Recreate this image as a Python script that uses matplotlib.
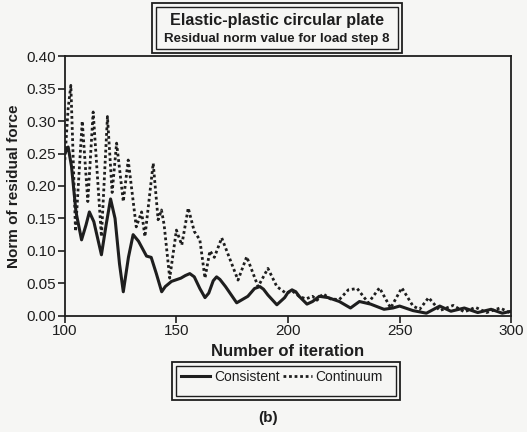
import matplotlib
matplotlib.use("Agg")
import matplotlib.pyplot as plt
from matplotlib.patches import Rectangle

# Consistent (solid line)
cons_x = [100, 101.5, 103, 105, 107.5, 109.5, 111, 113, 116.4, 118.5, 120.5, 122.5,
          124.5, 126.2, 128.5, 130.6, 133, 136.6, 138.7, 141, 143.4, 145, 147.8, 152,
          154, 156, 158, 160.5, 162.8, 164.5, 166.5, 168, 169.5, 172, 177, 182, 185, 187.4,
          189, 191, 195, 198.5, 200, 201.8, 203.5, 205, 208.5, 211, 214, 218, 223, 228, 232,
          237, 243, 247, 250, 256, 262, 268, 273, 279, 285, 291, 296, 300]
cons_y = [0.25, 0.26, 0.23, 0.16, 0.117, 0.14, 0.16, 0.145, 0.094, 0.14, 0.18, 0.15,
          0.08, 0.037, 0.09, 0.125, 0.115, 0.092, 0.09, 0.065, 0.037, 0.045, 0.053, 0.058,
          0.062, 0.065, 0.06, 0.042, 0.028, 0.035, 0.054, 0.06, 0.056, 0.045, 0.02, 0.03, 0.042, 0.045,
          0.041, 0.032, 0.017, 0.028, 0.036, 0.04, 0.037, 0.03, 0.018, 0.022, 0.03, 0.028, 0.022, 0.012, 0.022,
          0.018, 0.01, 0.012, 0.015, 0.008, 0.004, 0.015, 0.007, 0.012, 0.005, 0.01, 0.004, 0.007]

# Continuum (dotted line)
cont_x = [100, 101.5, 102.7, 104.8, 107.8, 110.3, 112.7, 116.4, 119.1, 121.2, 123.2,
          126.2, 128.4, 130.5, 132, 134.4, 135.9, 139.6, 141.8, 143.3, 144.5, 147, 150,
          152.4, 155.3, 158, 160.5, 162.8, 165, 167, 170.3, 177.6, 181.5, 186.6, 191, 195,
          199, 202, 205, 208, 211, 213, 215.7, 219, 223, 227, 231, 236, 241, 246, 251,
          256, 259, 263, 268, 274, 279, 284, 289, 295, 300]
cont_y = [0.24, 0.32, 0.355, 0.13, 0.30, 0.176, 0.314, 0.122, 0.307, 0.19, 0.266,
          0.176, 0.24, 0.18, 0.137, 0.16, 0.122, 0.235, 0.148, 0.163, 0.14, 0.058, 0.132,
          0.109, 0.166, 0.13, 0.117, 0.058, 0.1, 0.09, 0.12, 0.055, 0.091, 0.045, 0.073, 0.045,
          0.035, 0.038, 0.03, 0.026, 0.03, 0.024, 0.034, 0.026, 0.025, 0.04, 0.042, 0.02, 0.043, 0.012, 0.043,
          0.015, 0.01, 0.028, 0.008, 0.016, 0.006, 0.013, 0.005, 0.012, 0.004]

xticks = [100, 150, 200, 250, 300]
yticks = [0.00, 0.05, 0.10, 0.15, 0.20, 0.25, 0.30, 0.35, 0.40]

plt.rcParams['font.family'] = ['Liberation Sans', 'DejaVu Sans']
bg = "#f6f6f4"
ink = "#1e1e1e"

fig = plt.figure(figsize=(5.27, 4.32), dpi=100, facecolor=bg)
ax = fig.add_axes([0.123, 0.269, 0.847, 0.601], facecolor=bg)

ax.plot(cons_x, cons_y, color=ink, lw=2.2, label="Consistent")
ax.plot(cont_x, cont_y, color=ink, lw=2.0, ls=(0, (1, 1)), label="Continuum")

ax.set_xlim(100, 300)
ax.set_ylim(0, 0.40)
ax.set_xticks(xticks)
ax.set_yticks(yticks)
ax.set_yticklabels(["%.2f" % v for v in yticks])
ax.tick_params(direction="out", length=5, width=1.2, labelsize=11, colors=ink, pad=1)
for s in ax.spines.values():
    s.set_linewidth(1.3)
    s.set_color(ink)
ax.set_xlabel("Number of iteration", fontsize=12, fontweight="bold", color=ink, labelpad=4)
ax.set_ylabel("Norm of residual force", fontsize=11, fontweight="bold", color=ink, labelpad=4)

# title box (double border)
W, H = 527, 432
def box(x0, y0, x1, y1, lw):
    fig.patches.append(Rectangle((x0 / W, 1 - y1 / H), (x1 - x0) / W, (y1 - y0) / H,
                                 transform=fig.transFigure, fill=False, ec=ink, lw=lw))

box(152, 3, 402, 53, 1.3)
box(156, 7, 398, 49, 1.0)
fig.text(277 / W, 1 - 21 / H, "Elastic-plastic circular plate", ha="center", va="center",
         fontsize=11.6, fontweight="bold", color=ink)
fig.text(277 / W, 1 - 39 / H, "Residual norm value for load step 8", ha="center", va="center",
         fontsize=9.6, fontweight="bold", color=ink)

# legend box (double border)
box(172, 362, 400, 400, 1.3)
box(176, 366, 396, 396, 1.0)
h, l = ax.get_legend_handles_labels()
fig.legend(h, l, loc="center", bbox_to_anchor=(282 / W, 1 - 377 / H), ncol=2, frameon=False,
           fontsize=10, handlelength=2.1, handletextpad=0.25, columnspacing=0.25,
           labelcolor=ink)

fig.text(268 / W, 1 - 418 / H, "(b)", ha="center", va="center", fontsize=11,
         fontweight="bold", color=ink)

fig.savefig("out.png", dpi=100, facecolor=bg)
